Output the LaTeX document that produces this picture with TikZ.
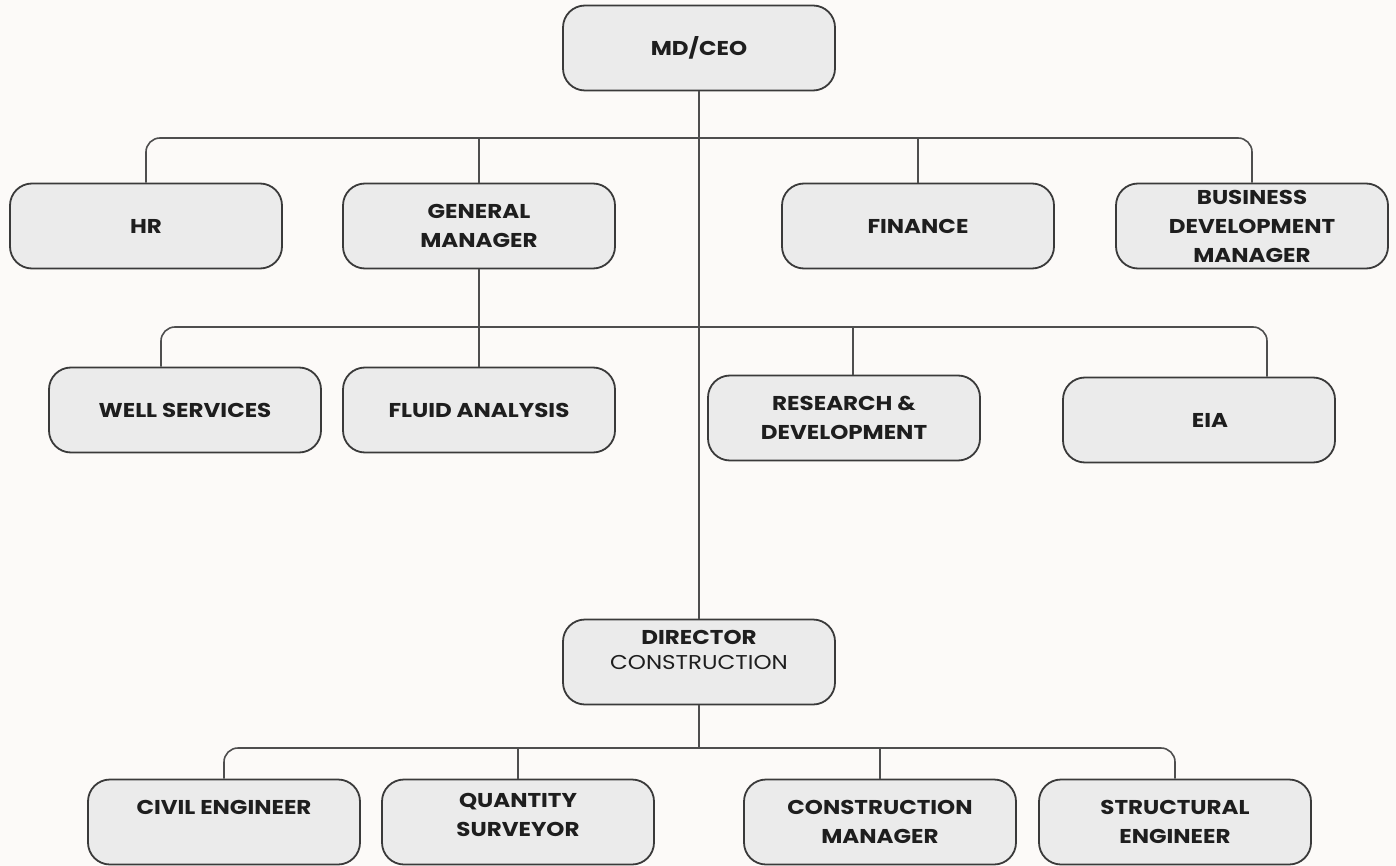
\documentclass[tikz,border=0pt]{standalone}
\usepackage{fontspec}
\setmainfont{Poppins}[FakeStretch=1.15]
\definecolor{bgcol}{HTML}{FCFAF8}
\definecolor{boxfill}{HTML}{EBEBEB}
\definecolor{boxline}{HTML}{3A3A3A}
\definecolor{linecol}{HTML}{4E4E4E}
\definecolor{textdark}{HTML}{1E1E1E}

\begin{document}
\begin{tikzpicture}[x=1pt, y=-1pt,
        main/.style = {draw=boxline, fill=boxfill, line width=1.8pt, rounded corners=22pt, minimum width=272pt, minimum height=85pt, align=center, text=textdark, font=\bfseries\fontsize{20}{29}\selectfont},
        link/.style = {draw=linecol, line width=1.6pt, rounded corners=14pt}]
        \fill[bgcol] (0,0) rectangle (1396,866);
        \useasboundingbox (0,0) rectangle (1396,866);
        % top level
        \node[main] (ceo) at (699,48) {MD/CEO};
        \node[main] (hr) at (146,226) {HR};
        \node[main] (gm) at (479,226) {GENERAL\\MANAGER};
        \node[main] (fin) at (918,226) {FINANCE};
        \node[main] (bdm) at (1252,226) {BUSINESS\\DEVELOPMENT\\MANAGER};
        % units
        \node[main] (ws) at (185,410) {WELL SERVICES};
        \node[main] (fa) at (479,410) {FLUID ANALYSIS};
        \node[main] (rd) at (844,418) {RESEARCH \&\\DEVELOPMENT};
        \node[main] (eia) at (1199,420) {\hspace*{22pt}EIA};
        % construction
        \node[main] (dir) at (699,662) {DIRECTOR\\[-4pt]{\mdseries CONSTRUCTION}\\[-4pt]\mbox{}};
        \node[main] (civ) at (224,822) {CIVIL ENGINEER\\\mbox{}};
        \node[main] (qs) at (518,822) {QUANTITY\\SURVEYOR\\[-14pt]\mbox{}};
        \node[main] (cm) at (880,822) {CONSTRUCTION\\MANAGER};
        \node[main] (se) at (1175,822) {STRUCTURAL\\ENGINEER};
        % connectors
        \coordinate (bus1) at (699,138);
        \coordinate (bus2) at (699,327);
        \coordinate (bus3) at (699,748);
        \draw[link] (ceo.south) -- (dir.north);
        \draw[link] (hr.north) |- (bus1) -| (bdm.north);
        \draw[link] (gm.north) -- (gm.north |- bus1);
        \draw[link] (fin.north) -- (fin.north |- bus1);
        \draw[link] ([xshift=-24pt]ws.north) |- (bus2) -| ([xshift=68pt]eia.north);
        \draw[link] (gm.south) -- (fa.north);
        \draw[link] ([xshift=9pt]rd.north) -- ([xshift=9pt]rd.north |- bus2);
        \draw[link] (dir.south) -- (bus3);
        \draw[link] (civ.north) |- (bus3) -| (se.north);
        \draw[link] (qs.north) -- (qs.north |- bus3);
        \draw[link] (cm.north) -- (cm.north |- bus3);
    \end{tikzpicture}
\end{document}
